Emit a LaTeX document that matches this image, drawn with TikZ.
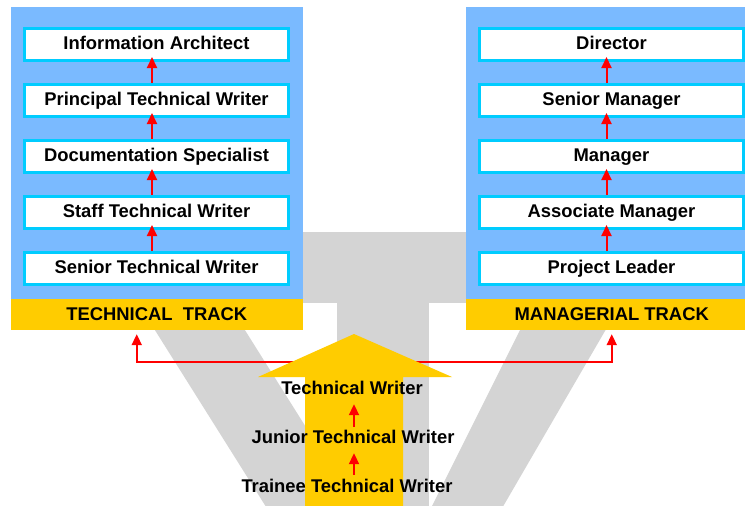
\documentclass[tikz,border=0pt]{standalone}
\usepackage{fontspec}
\setmainfont{Liberation Sans}
\usetikzlibrary{arrows.meta}
\definecolor{panelblue}{RGB}{122,186,255}
\definecolor{boxcyan}{RGB}{0,204,255}
\definecolor{trackyellow}{RGB}{255,204,0}
\definecolor{logogrey}{RGB}{212,212,212}
\tikzset{
  font={\fontsize{18.4pt}{20pt}\selectfont\bfseries}}

\begin{document}
\begin{tikzpicture}[x=1pt,y=-1pt]
\tikzstyle{every node}+=[inner sep=0pt]
\tikzstyle{rank}=[draw=boxcyan, fill=white, line width=3pt, minimum width=264pt, minimum height=32pt, text height=13pt, text depth=4pt]
\tikzstyle{track}=[fill=trackyellow, minimum width=292.5pt, minimum height=31pt]
\tikzstyle{entry}=[anchor=base, text height=13pt, text depth=4pt]
\tikzstyle{up}=[red, line width=2pt, -{Triangle[length=11pt,width=10pt]}]
\useasboundingbox (0,0) rectangle (745,506);
\clip (0,0) rectangle (745,506);
\fill [white] (0,0) rectangle (745,506);
% grey logo behind
\fill [logogrey] (290,232) rectangle (480,303);
\fill [logogrey] (337,232) rectangle (429,510);
\fill [logogrey] (136,300) -- (226,300) -- (358,510) -- (268,510) -- cycle;
\fill [logogrey] (535,300) -- (623,300) -- (501,510) -- (430,510) -- cycle;
% panels
\fill [panelblue] (10.5,7) rectangle (303,299);
\fill [panelblue] (465.5,7) rectangle (758,299);
\node [track] (tt) at (156.75,314.5) {TECHNICAL\ \ TRACK};
\node [track] (mt) at (611.75,314.5) {MANAGERIAL TRACK};
% technical track
\node [rank] (ia) at (156.5,44.5) {Information Architect};
\node [rank] (ptw) at (156.5,100.5) {Principal Technical Writer};
\node [rank] (ds) at (156.5,156.5) {Documentation Specialist};
\node [rank] (stw) at (156.5,212.5) {Staff Technical Writer};
\node [rank] (setw) at (156.5,268.5) {Senior Technical Writer};
\draw [up, shorten >=-5pt] ([xshift=-4.5pt]ptw.north) -- ([xshift=-4.5pt]ia.south);
\draw [up, shorten >=-5pt] ([xshift=-4.5pt]ds.north) -- ([xshift=-4.5pt]ptw.south);
\draw [up, shorten >=-5pt] ([xshift=-4.5pt]stw.north) -- ([xshift=-4.5pt]ds.south);
\draw [up, shorten >=-5pt] ([xshift=-4.5pt]setw.north) -- ([xshift=-4.5pt]stw.south);
% managerial track
\node [rank] (dir) at (611.5,44.5) {Director};
\node [rank] (sm) at (611.5,100.5) {Senior Manager};
\node [rank] (man) at (611.5,156.5) {Manager};
\node [rank] (am) at (611.5,212.5) {Associate Manager};
\node [rank] (pl) at (611.5,268.5) {Project Leader};
\draw [up, shorten >=-5pt] ([xshift=-5pt]sm.north) -- ([xshift=-5pt]dir.south);
\draw [up, shorten >=-5pt] ([xshift=-5pt]man.north) -- ([xshift=-5pt]sm.south);
\draw [up, shorten >=-5pt] ([xshift=-5pt]am.north) -- ([xshift=-5pt]man.south);
\draw [up, shorten >=-5pt] ([xshift=-5pt]pl.north) -- ([xshift=-5pt]am.south);
% split to both tracks
\coordinate (split) at (354,362);
\draw [up, shorten >=4pt] (split) -| ([xshift=-20pt]tt.south);
\draw [up, shorten >=4pt] (split) -| (mt.south);
\fill [trackyellow] (305,510) -- (305,377) -- (258,377) -- (354,334) -- (452,377) -- (403,377) -- (403,510) -- cycle;
% entry levels
\node [entry] (tw) at (352,394) {Technical Writer};
\node [entry] (jtw) at (353,443) {Junior Technical Writer};
\node [entry] (ttw) at (347,492) {Trainee Technical Writer};
\draw [up, shorten <=3pt, shorten >=6pt] (jtw.north -| split) -- (tw.south -| split);
\draw [up, shorten <=4pt, shorten >=6pt] (ttw.north -| split) -- (jtw.south -| split);
\end{tikzpicture}
\end{document}
